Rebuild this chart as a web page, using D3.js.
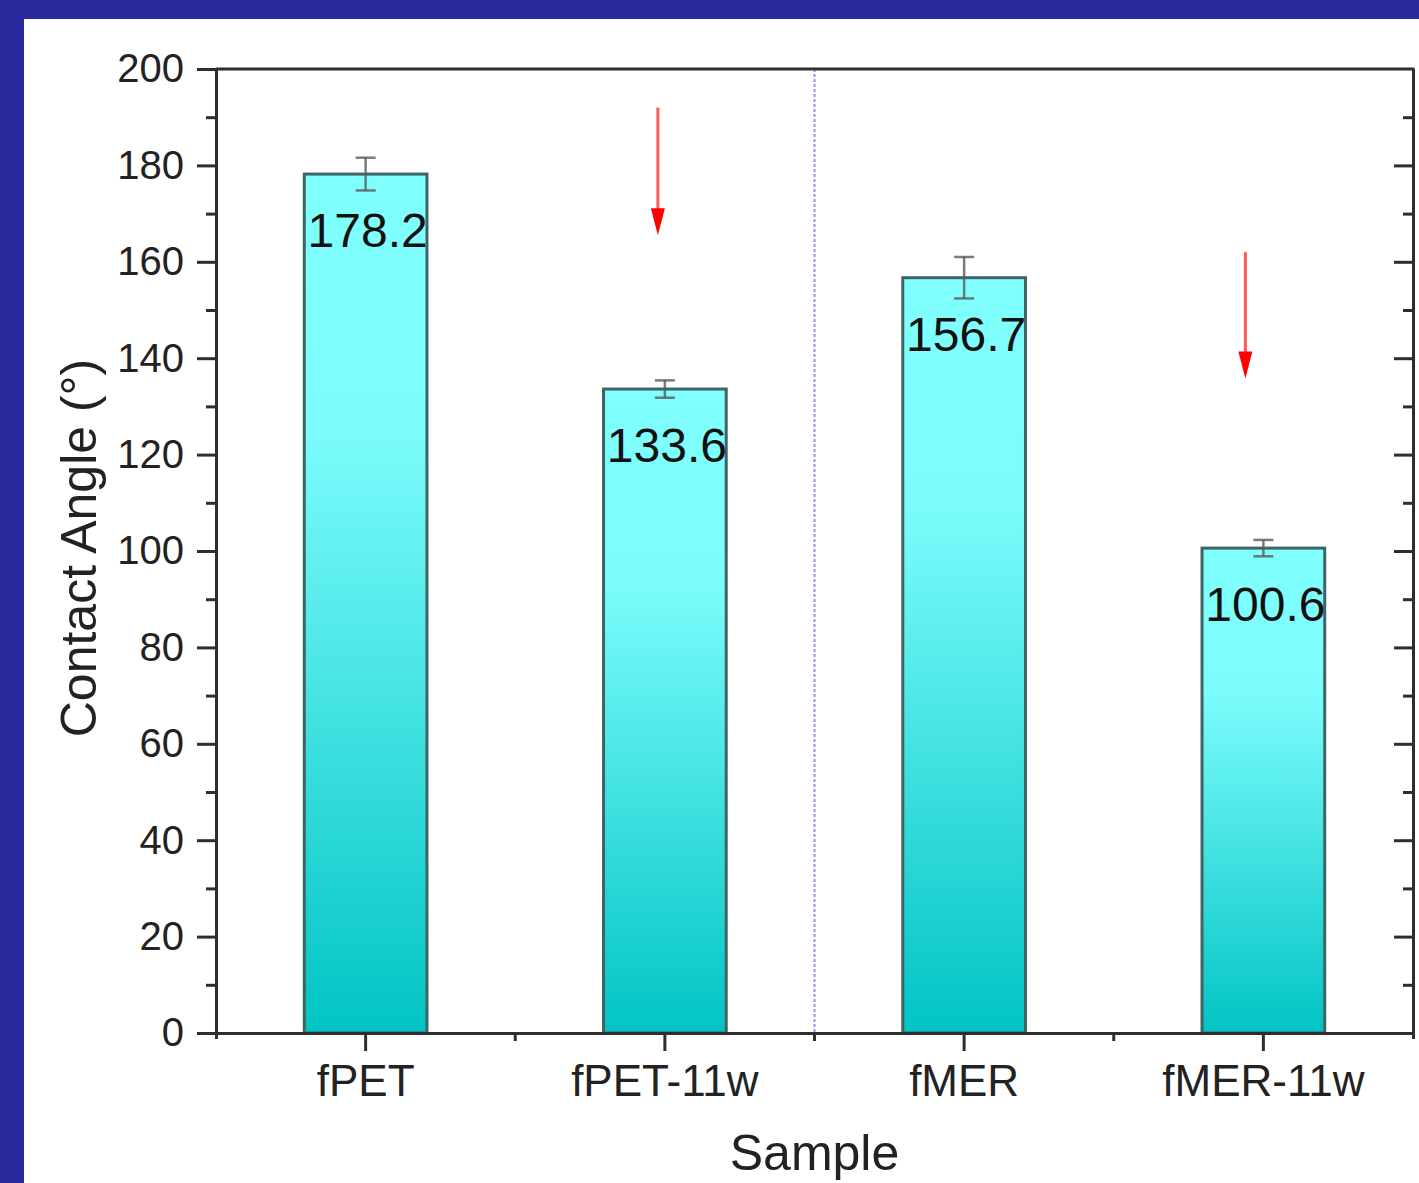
<!DOCTYPE html>
<html>
<head>
<meta charset="utf-8">
<script src="https://cdn.jsdelivr.net/npm/d3@7"></script>
<style>
  body { margin: 0; background: #2a2a9f; }
  svg { display: block; }
  text { font-family: "Liberation Sans", Arial, sans-serif; }
</style>
</head>
<body>
<svg width="1419" height="1183"></svg>
<script>
// data
const samples = ["fPET", "fPET-11w", "fMER", "fMER-11w"];
const angles = [178.2, 133.6, 156.7, 100.6];
const errors = [3.4, 1.8, 4.3, 1.7];
const yTicks = [0, 20, 40, 60, 80, 100, 120, 140, 160, 180, 200];
// red arrows: which sample, start and end (in degrees)
const arrowSamples = ["fPET-11w", "fMER-11w"];
const arrowFrom = [192, 162];
const arrowTo = [165.5, 135.8];

const svg = d3.select('svg');
const width = +svg.attr('width');
const height = +svg.attr('height');

// white panel inside the blue frame
svg.append('rect')
    .attr('x', 24).attr('y', 19)
    .attr('width', width - 24).attr('height', height - 19)
    .attr('fill', '#ffffff');

const plotLeft = 216, plotRight = 1413, plotTop = 69, plotBottom = 1033;

const x = d3.scaleBand()
    .domain(samples)
    .range([plotLeft, plotRight])
    .padding(0);

const y = d3.scaleLinear()
    .domain([0, 200])
    .range([plotBottom, plotTop]);

const data = samples.map((s, i) => ({ sample: s, value: angles[i], err: errors[i] }));

// gradient for the bars
const defs = svg.append('defs');
const grad = defs.append('linearGradient')
    .attr('id', 'barGrad')
    .attr('x1', 0).attr('y1', 0).attr('x2', 0).attr('y2', 1);
grad.append('stop').attr('offset', '0').attr('stop-color', '#80ffff');
grad.append('stop').attr('offset', '0.3').attr('stop-color', '#7cfcfc');
grad.append('stop').attr('offset', '1').attr('stop-color', '#02c4c4');

const barW = x.bandwidth() * 0.41;
const cx = d => x(d) + x.bandwidth() / 2;

// dotted divider between the two groups
svg.append('line')
    .attr('x1', x(samples[2])).attr('x2', x(samples[2]))
    .attr('y1', y(200)).attr('y2', y(0))
    .attr('stroke', '#6b6bff')
    .attr('stroke-width', 2)
    .attr('stroke-opacity', 0.75)
    .attr('stroke-dasharray', '3,2');

// bars
svg.selectAll('.bar')
    .data(data)
    .enter().append('rect')
    .attr('class', 'bar')
    .attr('x', d => cx(d.sample) - barW / 2)
    .attr('y', d => y(d.value))
    .attr('width', barW)
    .attr('height', d => y(0) - y(d.value))
    .attr('fill', 'url(#barGrad)')
    .attr('stroke', '#3e6464')
    .attr('stroke-width', 3);

// error bars
const eb = svg.selectAll('.err')
    .data(data)
    .enter().append('g')
    .attr('class', 'err')
    .attr('stroke', '#5a5a5a')
    .attr('stroke-width', 2.5)
    .attr('stroke-opacity', 0.8);
eb.append('line')
    .attr('x1', d => cx(d.sample)).attr('x2', d => cx(d.sample))
    .attr('y1', d => y(d.value + d.err)).attr('y2', d => y(d.value - d.err));
eb.append('line')
    .attr('x1', d => cx(d.sample) - 10).attr('x2', d => cx(d.sample) + 10)
    .attr('y1', d => y(d.value + d.err)).attr('y2', d => y(d.value + d.err));
eb.append('line')
    .attr('x1', d => cx(d.sample) - 10).attr('x2', d => cx(d.sample) + 10)
    .attr('y1', d => y(d.value - d.err)).attr('y2', d => y(d.value - d.err));

// value labels inside the bars
svg.selectAll('.lbl')
    .data(data)
    .enter().append('text')
    .attr('class', 'lbl')
    .attr('x', d => cx(d.sample) + 2)
    .attr('y', d => y(d.value) + 73)
    .attr('text-anchor', 'middle')
    .attr('font-size', 48)
    .attr('fill', '#111')
    .text(d => d.value.toFixed(1));

// red arrows (small sideways nudges as in the original)
const arrowDx = [-7, -18];
const arrows = arrowSamples.map((s, i) => ({ sample: s, from: arrowFrom[i], to: arrowTo[i], dx: arrowDx[i] }));
const ag = svg.selectAll('.arrow')
    .data(arrows)
    .enter().append('g')
    .attr('class', 'arrow');
ag.append('line')
    .attr('x1', d => cx(d.sample) + d.dx).attr('x2', d => cx(d.sample) + d.dx)
    .attr('y1', d => y(d.from)).attr('y2', d => y(d.to) - 20)
    .attr('stroke', '#ff5a5a')
    .attr('stroke-width', 3);
ag.append('path')
    .attr('d', d => {
        const ax = cx(d.sample) + d.dx, ay = y(d.to);
        return `M${ax - 7},${ay - 27}L${ax + 7},${ay - 27}L${ax},${ay}Z`;
    })
    .attr('fill', '#ff0000');

// axes
const axisColor = '#2e2e2e';
function styleAxis(g) {
    g.selectAll('.domain').attr('stroke', axisColor).attr('stroke-width', 3);
    g.selectAll('.tick line').attr('stroke', axisColor).attr('stroke-width', 3);
    g.selectAll('.tick text')
        .attr('fill', '#222')
        .style('font-family', '"Liberation Sans", Arial, sans-serif');
}

const minorTicks = d3.range(10, 200, 20);

// left axis
svg.append('g')
    .attr('transform', `translate(${plotLeft},0)`)
    .call(d3.axisLeft(y).tickValues(minorTicks).tickSize(10).tickFormat('').tickSizeOuter(0))
    .call(styleAxis);
svg.append('g')
    .attr('transform', `translate(${plotLeft},0)`)
    .call(d3.axisLeft(y).tickValues(yTicks).tickSize(19).tickPadding(13).tickSizeOuter(0))
    .call(g => g.selectAll('.tick text').attr('font-size', 40))
    .call(styleAxis);

// right axis (ticks pointing in)
svg.append('g')
    .attr('transform', `translate(${plotRight},0)`)
    .call(d3.axisLeft(y).tickValues(minorTicks).tickSize(10).tickFormat('').tickSizeOuter(0))
    .call(styleAxis);
svg.append('g')
    .attr('transform', `translate(${plotRight},0)`)
    .call(d3.axisLeft(y).tickValues(yTicks.slice(1, -1)).tickSize(19).tickFormat('').tickSizeOuter(0))
    .call(styleAxis);

// top line
svg.append('line')
    .attr('x1', plotLeft).attr('x2', plotRight + 1.5)
    .attr('y1', plotTop).attr('y2', plotTop)
    .attr('stroke', axisColor).attr('stroke-width', 3);

// bottom axis
svg.append('g')
    .attr('transform', `translate(0,${plotBottom})`)
    .call(d3.axisBottom(x).tickSize(18).tickPadding(14).tickSizeOuter(6))
    .call(g => g.selectAll('.tick text').attr('font-size', 44))
    .call(styleAxis);
// minor ticks between samples
svg.selectAll('.xminor')
    .data(samples.slice(1))
    .enter().append('line')
    .attr('class', 'xminor')
    .attr('x1', d => x(d)).attr('x2', d => x(d))
    .attr('y1', plotBottom).attr('y2', plotBottom + 8)
    .attr('stroke', axisColor).attr('stroke-width', 3);

// axis titles
svg.append('text')
    .attr('x', (plotLeft + plotRight) / 2)
    .attr('y', 1170)
    .attr('text-anchor', 'middle')
    .attr('font-size', 50)
    .attr('fill', '#222')
    .text('Sample');

svg.append('text')
    .attr('transform', `translate(96,${(plotTop + plotBottom) / 2 - 3}) rotate(-90)`)
    .attr('text-anchor', 'middle')
    .attr('font-size', 50)
    .attr('fill', '#222')
    .text('Contact Angle (°)');
</script>
</body>
</html>
